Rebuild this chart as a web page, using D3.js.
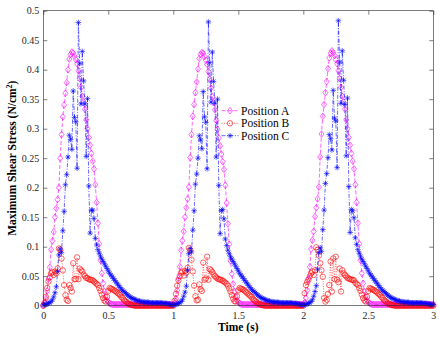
<!DOCTYPE html>
<html><head><meta charset="utf-8">
<script src="https://cdn.jsdelivr.net/npm/d3@7"></script>
<style>body{margin:0;background:#fff}</style>
</head><body>
<svg id="chart" width="440" height="340"></svg>
<script>
const timeRange = [0, 3];
const xTicks = [0, 0.5, 1, 1.5, 2, 2.5, 3];
const yTicks = [0, 0.05, 0.1, 0.15, 0.2, 0.25, 0.3, 0.35, 0.4, 0.45, 0.5];
const seriesNames = ["Position A", "Position B", "Position C"];
const xLabel = "Time (s)";
const yLabelMain = "Maximum Shear Stress (N/cm";
const yLabelSup = "2";
const yLabelEnd = ")";

const posA = [
0.000,0.005,0.012,0.025,0.045,0.065,0.095,0.110,0.125,0.150,
0.165,0.180,0.200,0.250,0.290,0.320,0.340,0.360,0.378,0.400,
0.418,0.426,0.430,0.428,0.423,0.417,0.410,0.398,0.385,0.370,
0.355,0.345,0.333,0.315,0.300,0.285,0.272,0.258,0.245,0.232,
0.205,0.175,0.140,0.105,0.077,0.055,0.038,0.024,0.015,0.009,
0.006,0.004,0.003,0.002,0.002,0.002,0.002,0.002,0.002,0.002,
0.002,0.002,0.002,0.002,0.002,0.002,0.002,0.002,0.002,0.002,
0.002,0.002,0.002,0.002,0.002,0.002,0.002,0.002,0.002,0.002,
0.002,0.002,0.002,0.002,0.002,0.002,0.002,0.002,0.002,0.002,
0.002,0.002,0.002,0.002,0.002,0.002,0.002,0.002,0.002,0.002,
0.002,0.005,0.012,0.026,0.046,0.066,0.094,0.110,0.126,0.150,
0.166,0.181,0.201,0.251,0.290,0.321,0.341,0.361,0.379,0.401,
0.419,0.426,0.429,0.428,0.422,0.416,0.409,0.397,0.384,0.369,
0.354,0.344,0.332,0.314,0.299,0.284,0.271,0.257,0.244,0.231,
0.204,0.174,0.139,0.104,0.076,0.054,0.037,0.024,0.015,0.009,
0.006,0.004,0.003,0.002,0.002,0.002,0.002,0.002,0.002,0.002,
0.002,0.002,0.002,0.002,0.002,0.002,0.002,0.002,0.002,0.002,
0.002,0.002,0.002,0.002,0.002,0.002,0.002,0.002,0.002,0.002,
0.002,0.002,0.002,0.002,0.002,0.002,0.002,0.002,0.002,0.002,
0.002,0.002,0.002,0.002,0.002,0.002,0.002,0.002,0.002,0.002,
0.002,0.005,0.013,0.026,0.046,0.066,0.096,0.111,0.126,0.151,
0.166,0.181,0.201,0.252,0.291,0.321,0.341,0.361,0.380,0.402,
0.420,0.428,0.432,0.429,0.424,0.417,0.410,0.398,0.385,0.370,
0.355,0.345,0.333,0.315,0.300,0.285,0.272,0.258,0.245,0.232,
0.205,0.175,0.140,0.105,0.077,0.055,0.038,0.024,0.015,0.009,
0.006,0.004,0.003,0.002,0.002,0.002,0.002,0.002,0.002,0.002,
0.002,0.002,0.002,0.002,0.002,0.002,0.002,0.002,0.002,0.002,
0.002,0.002,0.002,0.002,0.002,0.002,0.002,0.002,0.002,0.002,
0.002,0.002,0.002,0.002,0.002,0.002,0.002,0.002,0.002,0.002,
0.002,0.002,0.002,0.002,0.002,0.002,0.002,0.002,0.002,0.002,
0.002];

const posB = [
0.000,0.005,0.015,0.030,0.041,0.048,0.055,0.057,0.052,0.058,
0.055,0.063,0.097,0.095,0.080,0.060,0.035,0.018,0.010,0.008,
0.035,0.030,0.024,0.072,0.045,0.045,0.082,0.045,0.063,0.060,
0.058,0.053,0.050,0.047,0.047,0.045,0.044,0.044,0.043,0.041,
0.039,0.037,0.035,0.030,0.025,0.019,0.013,0.009,0.007,0.015,
0.025,0.030,0.029,0.028,0.027,0.025,0.024,0.022,0.020,0.018,
0.015,0.013,0.010,0.008,0.006,0.004,0.003,0.002,0.001,0.001,
0.000,0.000,0.000,0.000,0.000,0.000,0.000,0.000,0.000,0.000,
0.000,0.000,0.000,0.000,0.000,0.000,0.000,0.000,0.000,0.000,
0.000,0.000,0.000,0.000,0.000,0.000,0.000,0.000,0.000,0.000,
0.000,0.008,0.020,0.034,0.043,0.050,0.056,0.058,0.051,0.059,
0.056,0.064,0.098,0.094,0.078,0.058,0.034,0.016,0.009,0.010,
0.036,0.028,0.025,0.073,0.044,0.046,0.083,0.044,0.062,0.060,
0.057,0.053,0.050,0.048,0.046,0.045,0.044,0.044,0.042,0.041,
0.039,0.037,0.034,0.029,0.024,0.018,0.012,0.008,0.007,0.016,
0.026,0.030,0.029,0.028,0.027,0.025,0.023,0.021,0.019,0.017,
0.015,0.012,0.010,0.008,0.006,0.004,0.003,0.002,0.001,0.001,
0.000,0.000,0.000,0.000,0.000,0.000,0.000,0.000,0.000,0.000,
0.000,0.000,0.000,0.000,0.000,0.000,0.000,0.000,0.000,0.000,
0.000,0.000,0.000,0.000,0.000,0.000,0.000,0.000,0.000,0.000,
0.000,0.021,0.035,0.040,0.044,0.050,0.055,0.058,0.052,0.060,
0.099,0.095,0.085,0.072,0.060,0.049,0.013,0.007,0.010,0.020,
0.035,0.075,0.024,0.080,0.045,0.083,0.044,0.040,0.063,0.024,
0.060,0.055,0.052,0.050,0.047,0.046,0.045,0.044,0.044,0.043,
0.039,0.037,0.035,0.030,0.025,0.019,0.013,0.009,0.007,0.015,
0.025,0.030,0.029,0.028,0.027,0.025,0.024,0.022,0.020,0.018,
0.015,0.013,0.010,0.008,0.006,0.004,0.003,0.002,0.001,0.001,
0.000,0.000,0.000,0.000,0.000,0.000,0.000,0.000,0.000,0.000,
0.000,0.000,0.000,0.000,0.000,0.000,0.000,0.000,0.000,0.000,
0.000,0.000,0.000,0.000,0.000,0.000,0.000,0.000,0.000,0.000,
0.000];

const posC = [
0.001,0.002,0.002,0.003,0.004,0.005,0.007,0.010,0.015,0.022,
0.032,0.058,0.086,0.096,0.090,0.127,0.160,0.205,0.222,0.252,
0.289,0.282,0.265,0.364,0.319,0.312,0.233,0.480,0.411,0.342,
0.431,0.381,0.342,0.253,0.351,0.203,0.123,0.162,0.162,0.148,
0.114,0.103,0.095,0.089,0.084,0.079,0.075,0.071,0.067,0.063,
0.059,0.055,0.052,0.049,0.046,0.043,0.040,0.037,0.034,0.031,
0.028,0.026,0.024,0.022,0.020,0.018,0.016,0.014,0.013,0.012,
0.011,0.010,0.009,0.008,0.008,0.007,0.007,0.006,0.006,0.006,
0.006,0.006,0.005,0.005,0.005,0.005,0.005,0.005,0.005,0.005,
0.005,0.005,0.004,0.004,0.004,0.004,0.003,0.003,0.002,0.002,
0.001,0.002,0.002,0.003,0.004,0.005,0.007,0.010,0.016,0.023,
0.033,0.060,0.088,0.097,0.091,0.128,0.161,0.206,0.223,0.250,
0.288,0.281,0.266,0.363,0.320,0.311,0.232,0.481,0.412,0.345,
0.430,0.380,0.343,0.252,0.350,0.204,0.122,0.161,0.163,0.147,
0.113,0.102,0.094,0.088,0.083,0.079,0.075,0.071,0.067,0.063,
0.059,0.055,0.052,0.049,0.046,0.043,0.040,0.037,0.034,0.031,
0.028,0.026,0.024,0.022,0.020,0.018,0.016,0.014,0.013,0.012,
0.011,0.010,0.009,0.008,0.008,0.007,0.007,0.006,0.006,0.006,
0.006,0.006,0.005,0.005,0.005,0.005,0.005,0.005,0.005,0.005,
0.005,0.005,0.004,0.004,0.004,0.004,0.003,0.003,0.002,0.002,
0.001,0.002,0.002,0.003,0.004,0.005,0.007,0.010,0.016,0.024,
0.034,0.062,0.090,0.098,0.092,0.129,0.162,0.207,0.224,0.251,
0.290,0.283,0.264,0.365,0.318,0.313,0.234,0.483,0.413,0.343,
0.432,0.382,0.341,0.254,0.352,0.202,0.124,0.163,0.161,0.149,
0.115,0.104,0.095,0.089,0.084,0.079,0.075,0.071,0.067,0.063,
0.059,0.055,0.052,0.049,0.046,0.043,0.040,0.037,0.034,0.031,
0.028,0.026,0.024,0.022,0.020,0.018,0.016,0.014,0.013,0.012,
0.011,0.010,0.009,0.008,0.008,0.007,0.007,0.006,0.006,0.006,
0.006,0.006,0.005,0.005,0.005,0.005,0.005,0.005,0.005,0.005,
0.005,0.005,0.004,0.004,0.004,0.004,0.003,0.003,0.002,0.002,
0.002];

const seriesValues = [posA, posB, posC];
const seriesColors = ["#ff00ff", "#ff0000", "#0000ff"];
const seriesDash = ["4,2", "1,1.5", "4,1.5,1,1.5"];
const seriesMarker = ["diamond", "circle", "star"];

const svg = d3.select("#chart");
const L = 43.3, R = 433.3, T = 10.7, B = 305.7;
const x = d3.scaleLinear().domain(timeRange).range([L, R]);
const y = d3.scaleLinear().domain([0, 0.5]).range([B, T]);
const font = "'Liberation Serif','Times New Roman',serif";
const axisColor = "#262626";

function markerPath(type) {
  if (type === "diamond") return "M0,-3.3L2.5,0L0,3.3L-2.5,0Z";
  if (type === "circle") return d3.symbol(d3.symbolCircle, Math.PI * 2.7 * 2.7)();
  return "M-2.8,0H2.8M0,-2.8V2.8M-2,-2L2,2M-2,2L2,-2";
}

// data
seriesValues.forEach((vals, si) => {
  const n = vals.length;
  const t = i => timeRange[0] + (timeRange[1] - timeRange[0]) * i / (n - 1);
  const g = svg.append("g");
  const line = d3.line().x((d, i) => x(t(i))).y(d => y(d));
  g.append("path").attr("d", line(vals)).attr("fill", "none")
    .attr("stroke", seriesColors[si]).attr("stroke-width", 0.6)
    .attr("stroke-dasharray", seriesDash[si]);
  g.selectAll("path.m").data(vals).enter().append("path").attr("class", "m")
    .attr("d", markerPath(seriesMarker[si]))
    .attr("transform", (d, i) => `translate(${x(t(i))},${y(d)})`)
    .attr("fill", "none").attr("stroke", seriesColors[si]).attr("stroke-width", 0.6);
});

// axes
function styleAxis(g) {
  g.select(".domain").remove();
  g.selectAll(".tick line").attr("stroke", axisColor).attr("stroke-width", 0.6);
  g.selectAll(".tick text").attr("fill", axisColor).style("font-family", font).style("font-size", "10px");
}
svg.append("g").attr("transform", `translate(0,${B})`)
  .call(d3.axisBottom(x).tickValues(xTicks).tickFormat(d => String(d)).tickSize(-4).tickPadding(6)).call(styleAxis);
svg.append("g").attr("transform", `translate(0,${T})`)
  .call(d3.axisTop(x).tickValues(xTicks).tickFormat("").tickSize(-4)).call(styleAxis);
svg.append("g").attr("transform", `translate(${L},0)`)
  .call(d3.axisLeft(y).tickValues(yTicks).tickFormat(d => String(d)).tickSize(-4).tickPadding(4)).call(styleAxis);
svg.append("g").attr("transform", `translate(${R},0)`)
  .call(d3.axisRight(y).tickValues(yTicks).tickFormat("").tickSize(-4)).call(styleAxis);
svg.append("rect").attr("x", L).attr("y", T).attr("width", R - L).attr("height", B - T)
  .attr("fill", "none").attr("stroke", axisColor).attr("stroke-width", 0.6);

// labels
svg.append("text").attr("x", (L + R) / 2).attr("y", 331).attr("text-anchor", "middle")
  .style("font-family", font).style("font-size", "11.5px").style("font-weight", "bold")
  .attr("fill", "#000").text(xLabel);
const yl = svg.append("text").attr("transform", `translate(16,${(T + B) / 2}) rotate(-90)`)
  .attr("text-anchor", "middle").style("font-family", font).style("font-size", "11.5px")
  .style("font-weight", "bold").attr("fill", "#000");
yl.append("tspan").text(yLabelMain);
yl.append("tspan").attr("dy", -4.5).style("font-size", "8px").text(yLabelSup);
yl.append("tspan").attr("dy", 4.5).text(yLabelEnd);

// legend
const legRows = [110.7, 123.3, 135.7];
seriesNames.forEach((name, si) => {
  const yy = legRows[si];
  const g = svg.append("g");
  g.append("line").attr("x1", 221.5).attr("x2", 238.5).attr("y1", yy).attr("y2", yy)
    .attr("stroke", seriesColors[si]).attr("stroke-width", 0.6).attr("stroke-dasharray", seriesDash[si]);
  g.append("path").attr("d", markerPath(seriesMarker[si])).attr("transform", `translate(230,${yy})`)
    .attr("fill", "none").attr("stroke", seriesColors[si]).attr("stroke-width", 0.6);
  g.append("text").attr("x", 241).attr("y", yy).attr("dy", "0.35em")
    .style("font-family", font).style("font-size", "11.5px").attr("fill", "#000").text(name);
});
</script>
</body></html>
